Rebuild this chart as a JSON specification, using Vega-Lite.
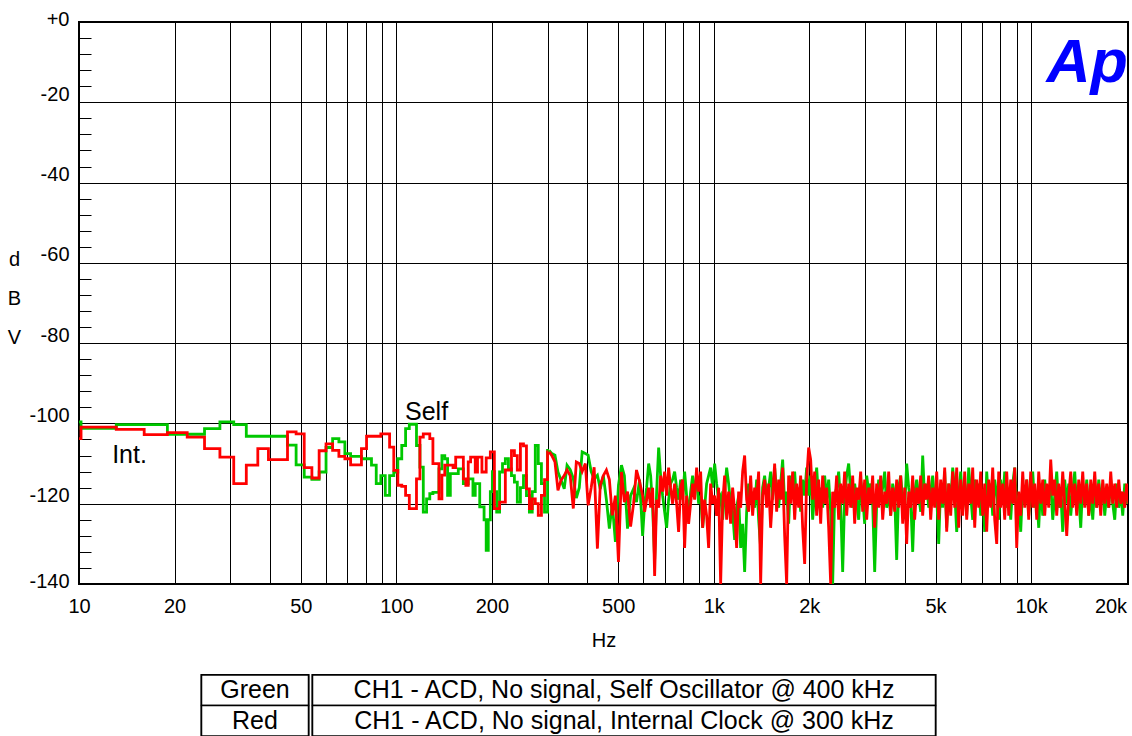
{
  "$schema": "https://vega.github.io/schema/vega-lite/v6.json",
  "background": "white",
  "padding": {"left": 6, "top": 8, "right": 0, "bottom": 0},
  "config": {
    "font": "Liberation Sans",
    "view": {"stroke": "#000", "strokeWidth": 2},
    "axis": {"labelFont": "Liberation Sans", "titleFont": "Liberation Sans", "labelColor": "#000", "titleColor": "#000", "titleFontWeight": "normal"}
  },
  "datasets": {
    "fft": [
      {"Hz": 8.79, "Green": -99.6, "Red": -103.8},
      {"Hz": 11.72, "Green": -101.2, "Red": -100.9},
      {"Hz": 14.65, "Green": -100.3, "Red": -101.5},
      {"Hz": 17.58, "Green": -100.3, "Red": -102.8},
      {"Hz": 20.51, "Green": -102.7, "Red": -102.3},
      {"Hz": 23.44, "Green": -102.7, "Red": -103.4},
      {"Hz": 26.37, "Green": -101.3, "Red": -106.3},
      {"Hz": 29.3, "Green": -99.6, "Red": -108.4},
      {"Hz": 32.23, "Green": -100.3, "Red": -115.0},
      {"Hz": 35.16, "Green": -103.2, "Red": -110.4},
      {"Hz": 38.09, "Green": -103.2, "Red": -106.3},
      {"Hz": 41.02, "Green": -103.2, "Red": -109.0},
      {"Hz": 43.95, "Green": -103.2, "Red": -109.0},
      {"Hz": 46.88, "Green": -105.4, "Red": -102.1},
      {"Hz": 49.8, "Green": -110.3, "Red": -102.6},
      {"Hz": 52.73, "Green": -113.4, "Red": -111.0},
      {"Hz": 55.66, "Green": -113.9, "Red": -113.6},
      {"Hz": 58.59, "Green": -112.1, "Red": -106.8},
      {"Hz": 61.52, "Green": -106.0, "Red": -105.1},
      {"Hz": 64.45, "Green": -103.8, "Red": -106.7},
      {"Hz": 67.38, "Green": -104.6, "Red": -108.2},
      {"Hz": 70.31, "Green": -107.5, "Red": -108.8},
      {"Hz": 73.24, "Green": -108.2, "Red": -110.3},
      {"Hz": 76.17, "Green": -108.2, "Red": -110.3},
      {"Hz": 79.1, "Green": -108.8, "Red": -106.3},
      {"Hz": 82.03, "Green": -108.8, "Red": -103.2},
      {"Hz": 84.96, "Green": -110.4, "Red": -103.2},
      {"Hz": 87.89, "Green": -115.0, "Red": -103.2},
      {"Hz": 90.82, "Green": -113.0, "Red": -102.6},
      {"Hz": 93.75, "Green": -117.9, "Red": -102.6},
      {"Hz": 96.68, "Green": -113.0, "Red": -105.9},
      {"Hz": 99.61, "Green": -112.1, "Red": -111.7},
      {"Hz": 102.54, "Green": -108.8, "Red": -115.4},
      {"Hz": 105.47, "Green": -105.5, "Red": -115.7},
      {"Hz": 108.4, "Green": -101.3, "Red": -117.9},
      {"Hz": 111.33, "Green": -100.2, "Red": -121.2},
      {"Hz": 114.26, "Green": -100.2, "Red": -121.2},
      {"Hz": 117.19, "Green": -105.5, "Red": -113.8},
      {"Hz": 120.12, "Green": -110.9, "Red": -103.4},
      {"Hz": 123.05, "Green": -122.1, "Red": -102.6},
      {"Hz": 125.98, "Green": -118.8, "Red": -102.6},
      {"Hz": 128.91, "Green": -117.5, "Red": -103.8},
      {"Hz": 131.84, "Green": -117.2, "Red": -110.0},
      {"Hz": 134.77, "Green": -117.2, "Red": -110.0},
      {"Hz": 137.7, "Green": -111.3, "Red": -118.8},
      {"Hz": 140.63, "Green": -108.0, "Red": -112.9},
      {"Hz": 143.55, "Green": -108.8, "Red": -110.4},
      {"Hz": 146.48, "Green": -117.9, "Red": -110.4},
      {"Hz": 149.41, "Green": -112.5, "Red": -110.4},
      {"Hz": 152.34, "Green": -112.5, "Red": -111.0},
      {"Hz": 155.27, "Green": -112.5, "Red": -108.4},
      {"Hz": 158.2, "Green": -111.3, "Red": -108.4},
      {"Hz": 161.13, "Green": -111.3, "Red": -108.4},
      {"Hz": 164.06, "Green": -115.0, "Red": -113.8},
      {"Hz": 166.99, "Green": -115.0, "Red": -115.4},
      {"Hz": 169.92, "Green": -113.8, "Red": -109.6},
      {"Hz": 172.85, "Green": -113.8, "Red": -108.4},
      {"Hz": 175.78, "Green": -117.9, "Red": -108.4},
      {"Hz": 178.71, "Green": -115.0, "Red": -112.1},
      {"Hz": 181.64, "Green": -115.0, "Red": -108.4},
      {"Hz": 184.57, "Green": -120.8, "Red": -108.4},
      {"Hz": 187.5, "Green": -120.8, "Red": -112.1},
      {"Hz": 190.43, "Green": -124.0, "Red": -112.1},
      {"Hz": 193.36, "Green": -131.6, "Red": -108.6},
      {"Hz": 196.29, "Green": -124.0, "Red": -108.6},
      {"Hz": 199.22, "Green": -117.0, "Red": -107.1},
      {"Hz": 202.15, "Green": -112.0, "Red": -107.1},
      {"Hz": 205.08, "Green": -117.0, "Red": -121.2},
      {"Hz": 209, "Green": -122.1, "Red": -121.2},
      {"Hz": 214, "Green": -112.1, "Red": -119.6},
      {"Hz": 218, "Green": -110.0, "Red": -119.6},
      {"Hz": 223, "Green": -108.8, "Red": -111.6},
      {"Hz": 228, "Green": -111.3, "Red": -111.6},
      {"Hz": 233, "Green": -113.0, "Red": -106.8},
      {"Hz": 238, "Green": -114.6, "Red": -108.0},
      {"Hz": 243, "Green": -119.6, "Red": -111.6},
      {"Hz": 249, "Green": -116.0, "Red": -105.1},
      {"Hz": 254, "Green": -113.0, "Red": -105.6},
      {"Hz": 260, "Green": -118.0, "Red": -116.3},
      {"Hz": 265, "Green": -122.1, "Red": -121.2},
      {"Hz": 271, "Green": -117.0, "Red": -118.8},
      {"Hz": 277, "Green": -105.5, "Red": -120.0},
      {"Hz": 283, "Green": -110.0, "Red": -122.9},
      {"Hz": 290, "Green": -115.0, "Red": -117.9},
      {"Hz": 296, "Green": -122.1, "Red": -114.0},
      {"Hz": 303, "Green": -106.7, "Red": -107.1},
      {"Hz": 309, "Green": -107.5, "Red": -108.0},
      {"Hz": 316, "Green": -107.9, "Red": -109.6},
      {"Hz": 323, "Green": -112.1, "Red": -116.7},
      {"Hz": 330, "Green": -114.0, "Red": -114.2},
      {"Hz": 338, "Green": -116.3, "Red": -113.0},
      {"Hz": 345, "Green": -110.4, "Red": -111.6},
      {"Hz": 353, "Green": -111.5, "Red": -113.0},
      {"Hz": 361, "Green": -113.7, "Red": -121.2},
      {"Hz": 369, "Green": -118.6, "Red": -109.6},
      {"Hz": 377, "Green": -116.0, "Red": -110.0},
      {"Hz": 385, "Green": -107.1, "Red": -112.0},
      {"Hz": 394, "Green": -107.5, "Red": -110.0},
      {"Hz": 402, "Green": -107.9, "Red": -120.4},
      {"Hz": 411, "Green": -112.0, "Red": -116.0},
      {"Hz": 420, "Green": -113.8, "Red": -110.9},
      {"Hz": 430, "Green": -112.9, "Red": -131.2},
      {"Hz": 439, "Green": -116.3, "Red": -115.4},
      {"Hz": 449, "Green": -113.0, "Red": -113.0},
      {"Hz": 459, "Green": -119.0, "Red": -111.6},
      {"Hz": 469, "Green": -126.2, "Red": -114.0},
      {"Hz": 479, "Green": -120.0, "Red": -122.9},
      {"Hz": 490, "Green": -129.5, "Red": -118.0},
      {"Hz": 501, "Green": -115.4, "Red": -134.5},
      {"Hz": 512, "Green": -110.4, "Red": -112.1},
      {"Hz": 523, "Green": -113.0, "Red": -119.6},
      {"Hz": 535, "Green": -126.2, "Red": -117.0},
      {"Hz": 547, "Green": -118.0, "Red": -125.7},
      {"Hz": 559, "Green": -116.3, "Red": -120.0},
      {"Hz": 571, "Green": -119.6, "Red": -111.6},
      {"Hz": 584, "Green": -114.0, "Red": -114.5},
      {"Hz": 597, "Green": -128, "Red": -118},
      {"Hz": 605.7, "Green": -120, "Red": -122},
      {"Hz": 614.6, "Green": -116, "Red": -119},
      {"Hz": 623.6, "Green": -110, "Red": -116},
      {"Hz": 632.7, "Green": -113, "Red": -121},
      {"Hz": 641.9, "Green": -121, "Red": -116},
      {"Hz": 651.3, "Green": -134, "Red": -138},
      {"Hz": 660.8, "Green": -117, "Red": -119},
      {"Hz": 670.5, "Green": -106, "Red": -121},
      {"Hz": 680.3, "Green": -113, "Red": -113},
      {"Hz": 690.2, "Green": -118, "Red": -117},
      {"Hz": 700.3, "Green": -122, "Red": -112},
      {"Hz": 710.5, "Green": -126, "Red": -118},
      {"Hz": 720.9, "Green": -119, "Red": -111},
      {"Hz": 731.4, "Green": -115, "Red": -116},
      {"Hz": 742.1, "Green": -114, "Red": -120},
      {"Hz": 753.0, "Green": -112, "Red": -115},
      {"Hz": 764.0, "Green": -116, "Red": -120},
      {"Hz": 775.1, "Green": -119, "Red": -127},
      {"Hz": 786.5, "Green": -114, "Red": -116},
      {"Hz": 798.0, "Green": -119, "Red": -114},
      {"Hz": 809.6, "Green": -112, "Red": -131},
      {"Hz": 821.5, "Green": -118, "Red": -118},
      {"Hz": 833.5, "Green": -123, "Red": -125},
      {"Hz": 845.7, "Green": -117, "Red": -120},
      {"Hz": 858.0, "Green": -113, "Red": -115},
      {"Hz": 870.6, "Green": -116, "Red": -119},
      {"Hz": 883.3, "Green": -114, "Red": -111},
      {"Hz": 896.2, "Green": -120, "Red": -117},
      {"Hz": 909.3, "Green": -118, "Red": -112},
      {"Hz": 922.6, "Green": -126, "Red": -126},
      {"Hz": 936.1, "Green": -121, "Red": -119},
      {"Hz": 949.8, "Green": -115, "Red": -123},
      {"Hz": 963.7, "Green": -113, "Red": -131},
      {"Hz": 977.8, "Green": -111, "Red": -115},
      {"Hz": 992.1, "Green": -116, "Red": -120},
      {"Hz": 1006.6, "Green": -110, "Red": -118},
      {"Hz": 1021.3, "Green": -115, "Red": -123},
      {"Hz": 1036.2, "Green": -119, "Red": -116},
      {"Hz": 1051.4, "Green": -118, "Red": -140},
      {"Hz": 1066.7, "Green": -124, "Red": -120},
      {"Hz": 1082.3, "Green": -117, "Red": -113},
      {"Hz": 1098.2, "Green": -111, "Red": -124},
      {"Hz": 1114.2, "Green": -115, "Red": -117},
      {"Hz": 1130.5, "Green": -120, "Red": -125},
      {"Hz": 1147.0, "Green": -122, "Red": -116},
      {"Hz": 1163.8, "Green": -129, "Red": -122},
      {"Hz": 1180.8, "Green": -121, "Red": -131},
      {"Hz": 1198.1, "Green": -118, "Red": -117},
      {"Hz": 1215.6, "Green": -131, "Red": -121},
      {"Hz": 1233.4, "Green": -125, "Red": -112},
      {"Hz": 1251.4, "Green": -137, "Red": -108},
      {"Hz": 1269.7, "Green": -122, "Red": -119},
      {"Hz": 1288.3, "Green": -115, "Red": -122},
      {"Hz": 1307.1, "Green": -120, "Red": -113},
      {"Hz": 1326.2, "Green": -117, "Red": -123},
      {"Hz": 1345.6, "Green": -121, "Red": -116},
      {"Hz": 1365.3, "Green": -114, "Red": -119},
      {"Hz": 1385.3, "Green": -124, "Red": -112},
      {"Hz": 1405.5, "Green": -131, "Red": -140},
      {"Hz": 1426.1, "Green": -116, "Red": -118},
      {"Hz": 1446.9, "Green": -113, "Red": -114},
      {"Hz": 1468.1, "Green": -118, "Red": -121},
      {"Hz": 1489.5, "Green": -116, "Red": -115},
      {"Hz": 1511.3, "Green": -112, "Red": -126},
      {"Hz": 1533.4, "Green": -119, "Red": -118},
      {"Hz": 1555.8, "Green": -111, "Red": -110},
      {"Hz": 1578.6, "Green": -117, "Red": -122},
      {"Hz": 1601.7, "Green": -121, "Red": -114},
      {"Hz": 1625.1, "Green": -115, "Red": -119},
      {"Hz": 1648.8, "Green": -109, "Red": -111},
      {"Hz": 1672.9, "Green": -120, "Red": -128},
      {"Hz": 1697.4, "Green": -117, "Red": -140},
      {"Hz": 1722.2, "Green": -125, "Red": -113},
      {"Hz": 1747.4, "Green": -113, "Red": -120},
      {"Hz": 1772.9, "Green": -118, "Red": -112},
      {"Hz": 1798.9, "Green": -112, "Red": -124},
      {"Hz": 1825.2, "Green": -120, "Red": -115},
      {"Hz": 1851.9, "Green": -116, "Red": -121},
      {"Hz": 1878.9, "Green": -122, "Red": -113},
      {"Hz": 1906.4, "Green": -114, "Red": -126},
      {"Hz": 1934.3, "Green": -118, "Red": -135},
      {"Hz": 1962.6, "Green": -111, "Red": -114},
      {"Hz": 1991.3, "Green": -118, "Red": -106},
      {"Hz": 2020.4, "Green": -113, "Red": -109},
      {"Hz": 2049.9, "Green": -124, "Red": -119},
      {"Hz": 2079.9, "Green": -117, "Red": -112},
      {"Hz": 2110.3, "Green": -111, "Red": -123},
      {"Hz": 2141.1, "Green": -119, "Red": -114},
      {"Hz": 2172.4, "Green": -116, "Red": -125},
      {"Hz": 2204.2, "Green": -121, "Red": -113},
      {"Hz": 2236.4, "Green": -113, "Red": -120},
      {"Hz": 2269.1, "Green": -119, "Red": -116},
      {"Hz": 2302.3, "Green": -114, "Red": -126},
      {"Hz": 2336.0, "Green": -122, "Red": -140},
      {"Hz": 2370.1, "Green": -140, "Red": -117},
      {"Hz": 2404.8, "Green": -118, "Red": -121},
      {"Hz": 2439.9, "Green": -116, "Red": -113},
      {"Hz": 2475.6, "Green": -112, "Red": -124},
      {"Hz": 2511.8, "Green": -120, "Red": -115},
      {"Hz": 2548.5, "Green": -137, "Red": -120},
      {"Hz": 2585.8, "Green": -118, "Red": -112},
      {"Hz": 2623.6, "Green": -113, "Red": -123},
      {"Hz": 2661.9, "Green": -110, "Red": -115},
      {"Hz": 2700.8, "Green": -117, "Red": -121},
      {"Hz": 2740.3, "Green": -121, "Red": -113},
      {"Hz": 2780.4, "Green": -115, "Red": -125},
      {"Hz": 2821.0, "Green": -119, "Red": -116},
      {"Hz": 2862.3, "Green": -124, "Red": -119},
      {"Hz": 2904.1, "Green": -114, "Red": -112},
      {"Hz": 2946.6, "Green": -118, "Red": -122},
      {"Hz": 2989.7, "Green": -125, "Red": -114},
      {"Hz": 3033.4, "Green": -113, "Red": -124},
      {"Hz": 3077.7, "Green": -117, "Red": -116},
      {"Hz": 3122.7, "Green": -115, "Red": -120},
      {"Hz": 3168.4, "Green": -120, "Red": -113},
      {"Hz": 3214.7, "Green": -137, "Red": -126},
      {"Hz": 3261.7, "Green": -120, "Red": -115},
      {"Hz": 3309.4, "Green": -114, "Red": -121},
      {"Hz": 3357.8, "Green": -119, "Red": -113},
      {"Hz": 3406.9, "Green": -116, "Red": -124},
      {"Hz": 3456.7, "Green": -112, "Red": -117},
      {"Hz": 3507.2, "Green": -121, "Red": -120},
      {"Hz": 3558.5, "Green": -117, "Red": -112},
      {"Hz": 3610.5, "Green": -123, "Red": -123},
      {"Hz": 3663.3, "Green": -115, "Red": -116},
      {"Hz": 3716.9, "Green": -118, "Red": -122},
      {"Hz": 3771.2, "Green": -134, "Red": -114},
      {"Hz": 3826.4, "Green": -116, "Red": -121},
      {"Hz": 3882.3, "Green": -113, "Red": -113},
      {"Hz": 3939.1, "Green": -119, "Red": -125},
      {"Hz": 3996.7, "Green": -121, "Red": -116},
      {"Hz": 4055.1, "Green": -110, "Red": -130},
      {"Hz": 4114.4, "Green": -116, "Red": -117},
      {"Hz": 4174.5, "Green": -119, "Red": -121},
      {"Hz": 4235.6, "Green": -132, "Red": -113},
      {"Hz": 4297.5, "Green": -117, "Red": -124},
      {"Hz": 4360.3, "Green": -114, "Red": -116},
      {"Hz": 4424.1, "Green": -118, "Red": -120},
      {"Hz": 4488.8, "Green": -122, "Red": -113},
      {"Hz": 4554.4, "Green": -108, "Red": -123},
      {"Hz": 4621.0, "Green": -119, "Red": -115},
      {"Hz": 4688.5, "Green": -115, "Red": -119},
      {"Hz": 4757.1, "Green": -121, "Red": -113},
      {"Hz": 4826.7, "Green": -117, "Red": -124},
      {"Hz": 4897.2, "Green": -113, "Red": -116},
      {"Hz": 4968.8, "Green": -120, "Red": -121},
      {"Hz": 5041.5, "Green": -118, "Red": -112},
      {"Hz": 5115.2, "Green": -130, "Red": -124},
      {"Hz": 5190.0, "Green": -115, "Red": -114},
      {"Hz": 5265.9, "Green": -121, "Red": -120},
      {"Hz": 5342.9, "Green": -112, "Red": -111},
      {"Hz": 5421.0, "Green": -126, "Red": -127},
      {"Hz": 5500.2, "Green": -115, "Red": -115},
      {"Hz": 5580.6, "Green": -120, "Red": -123},
      {"Hz": 5662.2, "Green": -111, "Red": -112},
      {"Hz": 5745.0, "Green": -117, "Red": -121},
      {"Hz": 5829.0, "Green": -127, "Red": -111},
      {"Hz": 5914.3, "Green": -118, "Red": -126},
      {"Hz": 6000.7, "Green": -112, "Red": -114},
      {"Hz": 6088.5, "Green": -121, "Red": -123},
      {"Hz": 6177.5, "Green": -115, "Red": -112},
      {"Hz": 6267.8, "Green": -123, "Red": -124},
      {"Hz": 6359.4, "Green": -111, "Red": -115},
      {"Hz": 6452.4, "Green": -118, "Red": -120},
      {"Hz": 6546.8, "Green": -124, "Red": -111},
      {"Hz": 6642.5, "Green": -114, "Red": -126},
      {"Hz": 6739.6, "Green": -120, "Red": -114},
      {"Hz": 6838.1, "Green": -115, "Red": -121},
      {"Hz": 6938.1, "Green": -123, "Red": -112},
      {"Hz": 7039.5, "Green": -117, "Red": -123},
      {"Hz": 7142.5, "Green": -127, "Red": -115},
      {"Hz": 7246.9, "Green": -112, "Red": -127},
      {"Hz": 7352.8, "Green": -120, "Red": -114},
      {"Hz": 7460.3, "Green": -115, "Red": -121},
      {"Hz": 7569.4, "Green": -123, "Red": -111},
      {"Hz": 7680.1, "Green": -114, "Red": -124},
      {"Hz": 7792.4, "Green": -118, "Red": -130},
      {"Hz": 7906.3, "Green": -124, "Red": -112},
      {"Hz": 8021.9, "Green": -114, "Red": -121},
      {"Hz": 8139.2, "Green": -120, "Red": -115},
      {"Hz": 8258.2, "Green": -112, "Red": -124},
      {"Hz": 8378.9, "Green": -121, "Red": -112},
      {"Hz": 8501.4, "Green": -117, "Red": -123},
      {"Hz": 8625.7, "Green": -124, "Red": -114},
      {"Hz": 8751.8, "Green": -115, "Red": -120},
      {"Hz": 8879.8, "Green": -111, "Red": -111},
      {"Hz": 9009.6, "Green": -121, "Red": -131},
      {"Hz": 9141.3, "Green": -118, "Red": -117},
      {"Hz": 9275.0, "Green": -127, "Red": -123},
      {"Hz": 9410.6, "Green": -115, "Red": -112},
      {"Hz": 9548.2, "Green": -120, "Red": -121},
      {"Hz": 9687.8, "Green": -114, "Red": -114},
      {"Hz": 9829.4, "Green": -123, "Red": -124},
      {"Hz": 9973.1, "Green": -117, "Red": -112},
      {"Hz": 10119, "Green": -112, "Red": -121},
      {"Hz": 10267, "Green": -121, "Red": -115},
      {"Hz": 10417, "Green": -118, "Red": -124},
      {"Hz": 10569, "Green": -126, "Red": -112},
      {"Hz": 10724, "Green": -115, "Red": -120},
      {"Hz": 10881, "Green": -123, "Red": -114},
      {"Hz": 11040, "Green": -114, "Red": -123},
      {"Hz": 11201, "Green": -120, "Red": -115},
      {"Hz": 11365, "Green": -117, "Red": -121},
      {"Hz": 11531, "Green": -115, "Red": -109},
      {"Hz": 11700, "Green": -124, "Red": -118},
      {"Hz": 11871, "Green": -118, "Red": -114},
      {"Hz": 12044, "Green": -112, "Red": -123},
      {"Hz": 12220, "Green": -121, "Red": -115},
      {"Hz": 12399, "Green": -117, "Red": -121},
      {"Hz": 12580, "Green": -127, "Red": -112},
      {"Hz": 12764, "Green": -114, "Red": -120},
      {"Hz": 12951, "Green": -120, "Red": -128},
      {"Hz": 13140, "Green": -115, "Red": -118},
      {"Hz": 13332, "Green": -123, "Red": -112},
      {"Hz": 13527, "Green": -117, "Red": -121},
      {"Hz": 13725, "Green": -112, "Red": -115},
      {"Hz": 13926, "Green": -121, "Red": -123},
      {"Hz": 14129, "Green": -118, "Red": -114},
      {"Hz": 14336, "Green": -126, "Red": -120},
      {"Hz": 14545, "Green": -115, "Red": -112},
      {"Hz": 14758, "Green": -120, "Red": -121},
      {"Hz": 14974, "Green": -114, "Red": -115},
      {"Hz": 15193, "Green": -123, "Red": -123},
      {"Hz": 15415, "Green": -117, "Red": -114},
      {"Hz": 15640, "Green": -124, "Red": -120},
      {"Hz": 15869, "Green": -115, "Red": -112},
      {"Hz": 16101, "Green": -121, "Red": -121},
      {"Hz": 16336, "Green": -114, "Red": -115},
      {"Hz": 16575, "Green": -120, "Red": -123},
      {"Hz": 16817, "Green": -115, "Red": -114},
      {"Hz": 17063, "Green": -123, "Red": -120},
      {"Hz": 17313, "Green": -117, "Red": -115},
      {"Hz": 17566, "Green": -121, "Red": -121},
      {"Hz": 17823, "Green": -114, "Red": -112},
      {"Hz": 18083, "Green": -120, "Red": -120},
      {"Hz": 18347, "Green": -124, "Red": -115},
      {"Hz": 18616, "Green": -115, "Red": -121},
      {"Hz": 18888, "Green": -121, "Red": -114},
      {"Hz": 19164, "Green": -117, "Red": -120},
      {"Hz": 19444, "Green": -123, "Red": -117},
      {"Hz": 19728, "Green": -115, "Red": -121},
      {"Hz": 20017, "Green": -120, "Red": -115},
      {"Hz": 20310, "Green": -118, "Red": -120}
    ],
    "legend": [
      {"Trace": "Green", "Description": "CH1 - ACD, No signal, Self Oscillator @ 400 kHz"},
      {"Trace": "Red", "Description": "CH1 - ACD, No signal, Internal Clock @ 300 kHz"}
    ]
  },
  "vconcat": [
    {
      "width": 1049,
      "height": 562,
      "layer": [
        {
          "data": {"name": "fft"},
          "transform": [
            {"filter": "datum.Hz <= 303"},
            {"fold": ["Green", "Red"], "as": ["Trace", "dB"]}
          ],
          "mark": {"type": "line", "interpolate": "step", "clip": true, "strokeWidth": 2.8},
          "encoding": {
            "x": {
              "field": "Hz", "type": "quantitative",
              "scale": {"type": "log", "domain": [10, 20200], "nice": false},
              "axis": {
                "title": "Hz", "titleFontSize": 20, "titlePadding": 14,
                "values": [10, 20, 30, 40, 50, 60, 70, 80, 90, 100, 200, 300, 400, 500, 600, 700, 800, 900, 1000, 2000, 3000, 4000, 5000, 6000, 7000, 8000, 9000, 10000, 20000],
                "tickCount": 100,
                "labelExpr": "indexof([10, 20, 50, 100, 200, 500, 1000, 2000, 5000, 10000, 20000], datum.value) >= 0 ? (datum.value >= 1000 ? (datum.value / 1000) + 'k' : '' + datum.value) : ''",
                "labelFontSize": 20, "labelPadding": 12, "labelFlush": false, "labelOverlap": false, "labelBound": false,
                "labelAlign": {"condition": {"test": "datum.value >= 20000", "value": "right"}, "value": "center"},
                "ticks": false, "tickSize": 0, "domain": false,
                "grid": true, "gridColor": "#000", "gridWidth": 1, "gridOpacity": 1
              }
            },
            "y": {
              "field": "dB", "type": "quantitative",
              "scale": {"domain": [-140, 0], "nice": false},
              "axis": {
                "title": ["d", "B", "V"], "titleAngle": 0, "titleLineHeight": 39, "titleX": -65, "titleY": 237,
                "titleAlign": "center", "titleBaseline": "middle", "titleFontSize": 20,
                "values": [-140, -136, -132, -128, -124, -120, -116, -112, -108, -104, -100, -96, -92, -88, -84, -80, -76, -72, -68, -64, -60, -56, -52, -48, -44, -40, -36, -32, -28, -24, -20, -16, -12, -8, -4, 0],
                "tickCount": 100,
                "labelExpr": "datum.value % 20 == 0 ? (datum.value == 0 ? '+0' : '-' + abs(datum.value)) : ''",
                "labelFontSize": 20, "labelPadding": 22, "labelOverlap": false, "labelBound": false, "labelFlush": false,
                "labelOffset": {"condition": {"test": "datum.value == 0 || datum.value == -140", "value": -3}, "value": -8},
                "tickSize": -12, "tickColor": "#000", "tickWidth": 1,
                "domain": false,
                "grid": true, "gridColor": "#000", "gridWidth": 1,
                "gridOpacity": {"condition": {"test": "datum.value % 20 == 0", "value": 1}, "value": 0}
              }
            },
            "color": {
              "field": "Trace", "type": "nominal",
              "scale": {"domain": ["Green", "Red"], "range": ["#00C800", "#FF0000"]},
              "legend": null
            }
          }
        },
        {
          "data": {"name": "fft"},
          "transform": [
            {"filter": "datum.Hz >= 303"},
            {"fold": ["Green", "Red"], "as": ["Trace", "dB"]}
          ],
          "mark": {"type": "line", "interpolate": "linear", "clip": true, "strokeWidth": 2.8},
          "encoding": {
            "x": {"field": "Hz", "type": "quantitative", "title": "Hz"},
            "y": {"field": "dB", "type": "quantitative", "title": ["d", "B", "V"]},
            "color": {"field": "Trace", "type": "nominal", "legend": null}
          }
        },
        {
          "data": {"values": [{}]},
          "mark": {"type": "text", "fontSize": 25, "align": "center", "baseline": "middle", "color": "#000"},
          "encoding": {"x": {"datum": 14.43}, "y": {"datum": -107.9}, "text": {"value": "Int."}}
        },
        {
          "data": {"values": [{}]},
          "mark": {"type": "text", "fontSize": 25, "align": "center", "baseline": "middle", "color": "#000"},
          "encoding": {"x": {"datum": 124.5}, "y": {"datum": -97.2}, "text": {"value": "Self"}}
        },
        {
          "data": {"values": [{}]},
          "mark": {"type": "text", "fontSize": 61, "fontWeight": "bold", "fontStyle": "italic", "align": "center", "baseline": "alphabetic", "color": "#0000FF"},
          "encoding": {"x": {"datum": 15025}, "y": {"datum": -15}, "text": {"value": "Ap"}}
        }
      ]
    },
    {
      "spacing": 0,
      "hconcat": [
        {
          "width": 107,
          "height": 61,
          "data": {"name": "legend"},
          "encoding": {
            "y": {"field": "Trace", "type": "nominal", "sort": null, "axis": null, "scale": {"paddingInner": 0, "paddingOuter": 0}}
          },
          "layer": [
            {"mark": {"type": "rect", "fill": "#fff", "stroke": "#000", "strokeWidth": 1.5}},
            {"mark": {"type": "text", "fontSize": 25, "color": "#000"}, "encoding": {"text": {"field": "Trace"}}}
          ]
        },
        {
          "width": 623,
          "height": 61,
          "data": {"name": "legend"},
          "encoding": {
            "y": {
              "field": "Trace", "type": "nominal", "sort": null,
              "scale": {"paddingInner": 0, "paddingOuter": 0},
              "axis": {"orient": "right", "title": null, "labels": false, "domain": false, "ticks": true, "tickSize": 70, "tickOpacity": 0}
            }
          },
          "layer": [
            {"mark": {"type": "rect", "fill": "#fff", "stroke": "#000", "strokeWidth": 1.5}},
            {"mark": {"type": "text", "fontSize": 25, "color": "#000"}, "encoding": {"text": {"field": "Description"}}}
          ]
        }
      ]
    }
  ],
  "spacing": 22,
  "center": true
}
